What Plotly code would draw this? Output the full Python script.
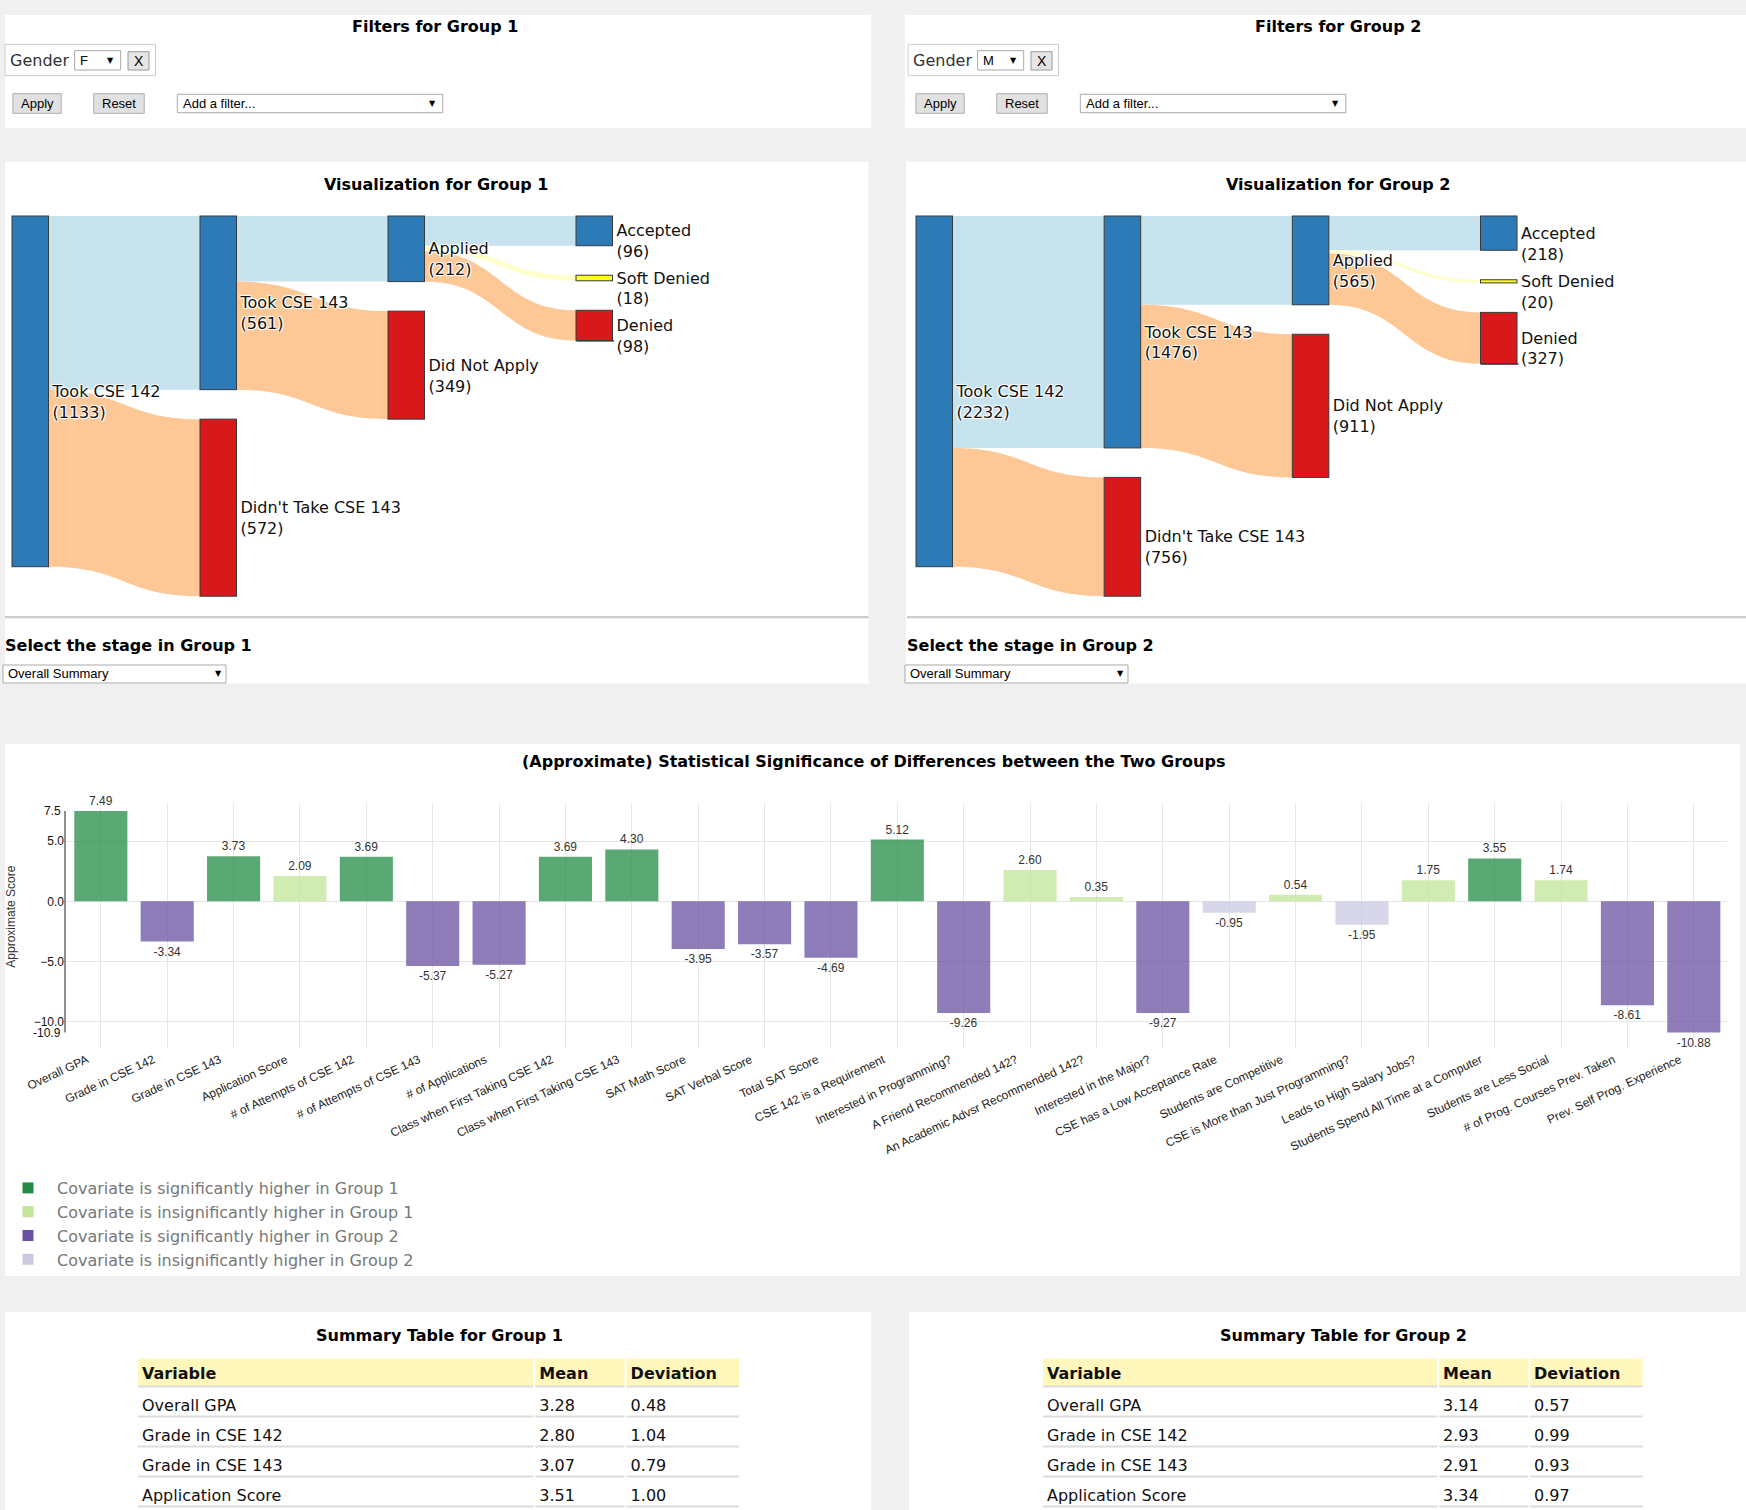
import plotly.graph_objects as go

FIG_W, FIG_H = 1746, 1510

# ---------------- data ----------------
stage_names = ["Took CSE 142", "Took CSE 143", "Didn't Take CSE 143", "Applied",
               "Did Not Apply", "Accepted", "Soft Denied", "Denied"]
link_source = [0, 0, 1, 1, 3, 3, 3]
link_target = [1, 2, 3, 4, 5, 6, 7]
group1_counts = [561, 572, 212, 349, 96, 18, 98]
group2_counts = [1476, 756, 565, 911, 218, 20, 327]

covariates = [
    "Overall GPA", "Grade in CSE 142", "Grade in CSE 143", "Application Score",
    "# of Attempts of CSE 142", "# of Attempts of CSE 143", "# of Applications",
    "Class when First Taking CSE 142", "Class when First Taking CSE 143",
    "SAT Math Score", "SAT Verbal Score", "Total SAT Score", "CSE 142 is a Requirement",
    "Interested in Programming?", "A Friend Recommended 142?",
    "An Academic Advsr Recommended 142?", "Interested in the Major?",
    "CSE has a Low Acceptance Rate", "Students are Competitive",
    "CSE is More than Just Programming?", "Leads to High Salary Jobs?",
    "Students Spend All Time at a Computer", "Students are Less Social",
    "# of Prog. Courses Prev. Taken", "Prev. Self Prog. Experience",
]
approx_scores = [7.49, -3.34, 3.73, 2.09, 3.69, -5.37, -5.27, 3.69, 4.30, -3.95, -3.57,
                 -4.69, 5.12, -9.26, 2.60, 0.35, -9.27, -0.95, 0.54, -1.95, 1.75, 3.55,
                 1.74, -8.61, -10.88]
is_significant = [True, True, True, False, True, True, True, True, True, True, True,
                  True, True, True, False, False, True, False, False, False, False, True,
                  False, True, True]
score_ticks = [-10, -5, 0, 5]
legend_labels = ["Covariate is significantly higher in Group 1",
                 "Covariate is insignificantly higher in Group 1",
                 "Covariate is significantly higher in Group 2",
                 "Covariate is insignificantly higher in Group 2"]

summary_header = ["Variable", "Mean", "Deviation"]
summary_variables = ["Overall GPA", "Grade in CSE 142", "Grade in CSE 143", "Application Score"]
group1_mean = [3.28, 2.80, 3.07, 3.51]
group1_dev = [0.48, 1.04, 0.79, 1.00]
group2_mean = [3.14, 2.93, 2.91, 3.34]
group2_dev = [0.57, 0.99, 0.93, 0.97]
group_gender = ["F", "M"]
stage_choice = "Overall Summary"

# ---------------- styles ----------------
PAGE_BG = "#f0f0f0"
TAHOMA = "DejaVu Sans"
ARIAL = "Liberation Sans, Arial, sans-serif"
NODE_COLORS = {"pos": "#2c7bb6", "neg": "#d7191c", "soft": "#ffff1a"}
LINK_COLORS = {"pos": "#c6e3ee", "neg": "#fdc896", "soft": "#ffffcc"}
CLEAR = "rgba(0,0,0,0)"
stage_kind = ["pos", "pos", "neg", "pos", "neg", "pos", "soft", "neg"]
stage_layer = [0, 1, 1, 2, 2, 3, 3, 3]
COVARIATE_COLORS = ["#238b45", "#c2e699", "#6a51a3", "#cbc9e2"]
NODE_W = 36.5
NODE_PAD = 29.5

shapes = []
annotations = []


def px(x):
    return x / FIG_W


def py(y):
    return 1 - y / FIG_H


def rect(x0, y0, x1, y1, fill, line=None, lw=1, layer="below"):
    shapes.append(dict(type="rect", xref="paper", yref="paper",
                       x0=px(x0), x1=px(x1), y0=py(y1), y1=py(y0),
                       fillcolor=fill, layer=layer,
                       line=dict(color=line if line else CLEAR,
                                 width=lw if line else 0)))


def hline(x0, x1, y, color, lw=1, layer="below"):
    shapes.append(dict(type="line", xref="paper", yref="paper",
                       x0=px(x0), x1=px(x1), y0=py(y), y1=py(y),
                       line=dict(color=color, width=lw), layer=layer))


def text(x, y, s, size=16, family=TAHOMA, color="#000", xanchor="left", angle=0):
    annotations.append(dict(xref="paper", yref="paper", x=px(x), y=py(y), text=s,
                            showarrow=False, xanchor=xanchor, yanchor="middle",
                            textangle=angle,
                            font=dict(family=family, size=size, color=color)))


# ---------------- panels ----------------
rect(5, 15, 871, 128, "white")
rect(905, 15, 1746, 128, "white")
rect(5, 161.5, 868.5, 683.5, "white")
rect(906, 161.5, 1746, 683.5, "white")
rect(5, 744, 1740, 1276, "white")
rect(5, 1312, 871, 1510, "white")
rect(909, 1312, 1746, 1510, "white")


def filter_panel(ox, gi):
    text(ox + 435, 26, f"<b>Filters for Group {gi + 1}</b>", 16, TAHOMA, "#000", "center")
    rect(ox + 5, 44.3, ox + 155.5, 75.7, "white", "#cccccc")
    text(ox + 8, 60.5, "Gender", 16, TAHOMA, "#333")
    rect(ox + 74.6, 50.7, ox + 120.7, 70, "white", "#a9a9a9")
    text(ox + 78, 60.5, group_gender[gi], 13, ARIAL, "#000")
    text(ox + 110.5, 60.5, "▼", 8, TAHOMA, "#000", "center")
    rect(ox + 128, 51.7, ox + 149, 70, "#e6e6e6", "#9a9a9a")
    text(ox + 138.5, 61, "X", 14, ARIAL, "#000", "center")
    rect(ox + 12.9, 93.7, ox + 61.2, 113.3, "#e1e1e1", "#adadad")
    text(ox + 37, 103.5, "Apply", 13, ARIAL, "#000", "center")
    rect(ox + 93.7, 93.7, ox + 144.2, 113.3, "#e1e1e1", "#adadad")
    text(ox + 119, 103.5, "Reset", 13, ARIAL, "#000", "center")
    rect(ox + 177.3, 94.3, ox + 442.8, 112.7, "white", "#a9a9a9")
    text(ox + 180.5, 103.5, "Add a filter...", 13, ARIAL, "#000")
    text(ox + 432, 103.5, "▼", 8, TAHOMA, "#000", "center")


filter_panel(0, 0)
filter_panel(903, 1)


def viz_panel(ox, x1, gi):
    text(ox + 436, 184, f"<b>Visualization for Group {gi + 1}</b>", 16, TAHOMA, "#000", "center")
    hline(ox + 5, x1, 617, "#9a9a9a", 1)
    hline(ox + 5, x1, 618.5, "#eeeeee", 1)
    text(ox + 3, 645, f"<b>Select the stage in Group {gi + 1}</b>", 16, TAHOMA, "#000")
    rect(ox + 3, 665, ox + 226, 683, "white", "#a9a9a9")
    text(ox + 6, 674, stage_choice, 13, ARIAL, "#000")
    text(ox + 218, 674, "▼", 8, TAHOMA, "#000", "center")


viz_panel(0, 868.5, 0)
viz_panel(902, 1746, 1)


def make_sankey(counts, left, span, right, y0, y1):
    """left/right: domain edges in px; span: width from first to last node column."""
    n = len(stage_names)
    inflow = [0] * n
    outflow = [0] * n
    for s, t, v in zip(link_source, link_target, counts):
        outflow[s] += v
        inflow[t] += v
    totals = [max(a, b) for a, b in zip(inflow, outflow)]
    w, h = right - left, y1 - y0
    n_layers = max(stage_layer) + 1
    ky = min((h - (stage_layer.count(L) - 1) * NODE_PAD) /
             sum(v for v, l in zip(totals, stage_layer) if l == L)
             for L in range(n_layers))
    cursor = [0.0] * n_layers
    xs, ys, bottoms = [], [], []
    for i in range(n):
        L = stage_layer[i]
        nh = totals[i] * ky
        ys.append((cursor[L] + nh / 2) / h)
        bottoms.append((cursor[L] + nh) / h)
        cursor[L] += nh + NODE_PAD
        xs.append((NODE_W / 2 + L * (span - NODE_W) / (n_layers - 1)) / w)
    # a zero-height helper node tucked onto the bottom edge of the last node, one pixel
    # further right: it becomes the final column, so the real last column keeps its
    # labels on the right-hand side of the nodes (as in the reference)
    last = [i for i in range(n) if stage_layer[i] == n_layers - 1]
    xs.append(xs[last[-1]] + 1.0 / w)
    ys.append(bottoms[last[-1]])
    labels = [f"<br>{nm}<br>({v})" for nm, v in zip(stage_names, totals)] + [""]
    return go.Sankey(
        domain=dict(x=[px(left), px(right)], y=[py(y1), py(y0)]),
        arrangement="fixed",
        node=dict(label=labels, x=xs, y=ys, pad=NODE_PAD, thickness=NODE_W, align="left",
                  color=[NODE_COLORS[k] for k in stage_kind] + [CLEAR],
                  line=dict(color="#3a3a3a", width=1),
                  hoverinfo="none"),
        link=dict(source=link_source + last, target=link_target + [n] * len(last),
                  value=counts + [1e-6] * len(last),
                  color=[LINK_COLORS[stage_kind[t]] for t in link_target] + [CLEAR] * len(last),
                  hoverinfo="none"),
        textfont=dict(family=TAHOMA, size=16, color="#111"),
    )


traces = [make_sankey(group1_counts, 12, 600.5, 862, 216, 596.2),
          make_sankey(group2_counts, 916, 601, 1740, 216, 596.2)]

# ---------------- significance bar chart ----------------
bar_kind = [(0 if s > 0 else 2) + (0 if sig else 1)
            for s, sig in zip(approx_scores, is_significant)]
traces.append(go.Bar(
    x=covariates, y=approx_scores, xaxis="x", yaxis="y",
    marker=dict(color=[COVARIATE_COLORS[k] for k in bar_kind], opacity=0.75,
                line=dict(width=0)),
    width=0.8, texttemplate="%{y:.2f}", textposition="outside",
    textfont=dict(family=ARIAL, size=12, color="#333"), cliponaxis=False,
    showlegend=False, hoverinfo="skip"))
for lab, col in zip(legend_labels, COVARIATE_COLORS):
    traces.append(go.Scatter(x=[None], y=[None], mode="markers", name=lab,
                             marker=dict(symbol="square", size=11, color=col),
                             xaxis="x", yaxis="y", hoverinfo="skip"))

text(873, 762, "<b>(Approximate) Statistical Significance of Differences between the Two Groups</b>",
     16, TAHOMA, "#000", "center")
text(11, 916.7, "Approximate Score", 12, ARIAL, "#333", "center", -90)
for v in (max(approx_scores), min(approx_scores)):
    annotations.append(dict(xref="paper", yref="y", x=px(65), y=v, text=f"{v:.1f}",
                            showarrow=False, xanchor="right", yanchor="middle", xshift=-2,
                            font=dict(family=ARIAL, size=12, color="#111")))
shapes.append(dict(type="line", xref="paper", yref="y", x0=px(65), x1=px(65),
                   y0=min(approx_scores), y1=max(approx_scores),
                   line=dict(color="#222", width=1), layer="above"))

# ---------------- summary tables ----------------
TABLE_TOP = 1358.5      # top of header band
HEADER_H = 28
ROW_H = 30
TEXT_DY = 2.7           # plotly puts cell text a little low; lift the text layer
ROW_TEXT_DY = 2.2       # and the body rows a little more
TEXT_DX = 3
COL_W = [396, 91, 114]


def summary_table(x0, x1, means, devs, gi):
    text((x0 + x1) / 2 + 0.5, 1335.7, f"<b>Summary Table for Group {gi + 1}</b>",
         16, TAHOMA, "#000", "center")
    edges = [x0]
    for cw in COL_W:
        edges.append(edges[-1] + cw * (x1 - x0) / sum(COL_W))
    for a, b in zip(edges[:-1], edges[1:]):
        rect(a + 1, TABLE_TOP, b - 1, TABLE_TOP + HEADER_H, "#fff7bc")
    for k in range(len(summary_variables) + 1):
        yy = TABLE_TOP + HEADER_H + k * ROW_H
        for a, b in zip(edges[:-1], edges[1:]):
            hline(a + 1, b - 1, yy, "#dddddd", 2, "above")
    traces.append(go.Table(
        domain=dict(x=[px(x0 - TEXT_DX), px(x1 - TEXT_DX)], y=[0, py(TABLE_TOP - TEXT_DY)]),
        columnwidth=COL_W,
        header=dict(values=[f"<b>{h}</b>" for h in summary_header],
                    fill_color=CLEAR, line=dict(color=CLEAR, width=1),
                    align="left", height=HEADER_H - ROW_TEXT_DY,
                    font=dict(family=TAHOMA, size=16, color="#111")),
        cells=dict(values=[summary_variables, [f"{m:.2f}" for m in means],
                           [f"{d:.2f}" for d in devs]],
                   fill_color=CLEAR, line=dict(color=CLEAR, width=1),
                   align="left", height=ROW_H,
                   font=dict(family=TAHOMA, size=16, color="#111")),
    ))


summary_table(137, 740, group1_mean, group1_dev, 0)
summary_table(1042, 1643.5, group2_mean, group2_dev, 1)

fig = go.Figure(data=traces)
fig.update_layout(
    width=FIG_W, height=FIG_H, autosize=False,
    margin=dict(l=0, r=0, t=0, b=0, pad=0, autoexpand=False),
    paper_bgcolor=PAGE_BG, plot_bgcolor="white",
    shapes=shapes, annotations=annotations, hovermode=False,
    barmode="overlay",
    xaxis=dict(domain=[px(65), px(1727)], range=[-0.54, 24.5], type="category",
               categoryorder="array", categoryarray=covariates, tickangle=-25,
               tickfont=dict(family=ARIAL, size=12, color="#222"),
               ticklabelshift=-14, ticklabelstandoff=2,
               showgrid=True, gridcolor="#e6e6e6", gridwidth=1, showline=False,
               zeroline=False, ticks="", fixedrange=True, anchor="y", automargin=False),
    yaxis=dict(domain=[py(1047.7), py(803.3)], range=[-12.14, 8.126],
               tickvals=score_ticks, tickformat=".1f",
               tickfont=dict(family=ARIAL, size=12, color="#111"),
               showgrid=True, gridcolor="#e6e6e6", zeroline=False, showline=False,
               ticks="", fixedrange=True, anchor="x", automargin=False),
    showlegend=True,
    legend=dict(x=px(-1), y=py(1171), xanchor="left", yanchor="top",
                font=dict(family=TAHOMA, size=16, color="#777"),
                bgcolor=CLEAR, itemwidth=48, tracegroupgap=0,
                itemclick=False, itemdoubleclick=False),
)

fig.write_html("out.html", config={"displayModeBar": False},
               post_script="document.body.style.margin='0';document.body.style.overflow='hidden';")
